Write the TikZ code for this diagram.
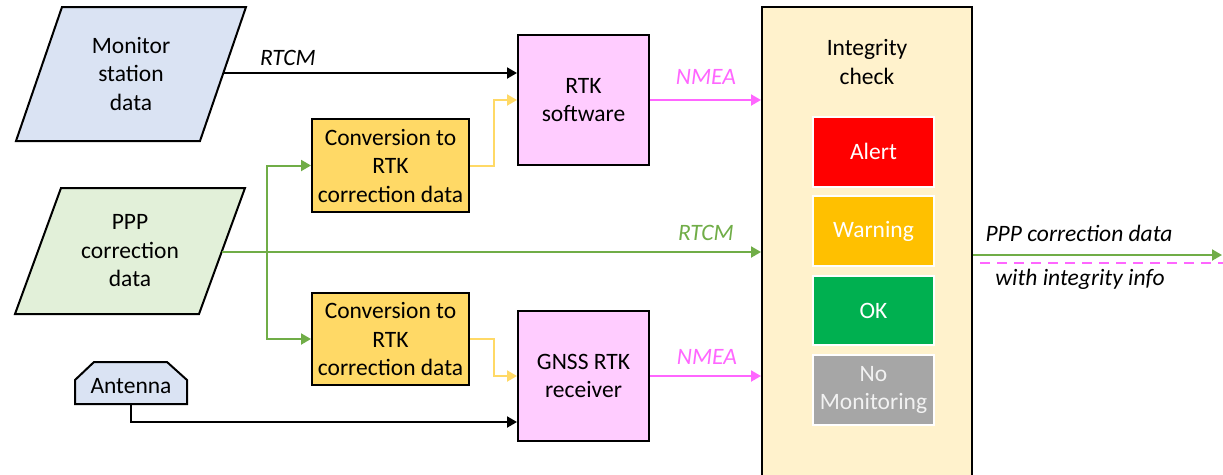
\documentclass[tikz,border=0pt]{standalone}
\usepackage{fontspec}
\setmainfont{Carlito}
\usetikzlibrary{arrows.meta,calc}
\definecolor{inblue}{HTML}{DAE3F3}
\definecolor{ingreen}{HTML}{E2F0D9}
\definecolor{convfill}{HTML}{FFD966}
\definecolor{procfill}{HTML}{FFCCFF}
\definecolor{nmeacol}{HTML}{FF66FF}
\definecolor{pppcol}{HTML}{70AD47}
\definecolor{checkfill}{HTML}{FFF2CC}
\definecolor{alertcol}{HTML}{FF0000}
\definecolor{warncol}{HTML}{FFC000}
\definecolor{okcol}{HTML}{00B050}
\definecolor{nomoncol}{HTML}{A6A6A6}
\begin{document}
\begin{tikzpicture}[x=1pt,y=-1pt,
  font=\fontsize{23.5}{28.5}\selectfont,
  box/.style={draw=black, line width=2pt, align=center, inner sep=0pt},
  conv/.style={box, fill=convfill, minimum width=157pt, minimum height=93pt},
  proc/.style={box, fill=procfill, minimum width=131pt, minimum height=130pt},
  status/.style={draw=white, line width=2pt, text=white, align=center,
    minimum width=121pt, minimum height=70pt, inner sep=0pt},
  txt/.style={align=center, inner sep=0pt},
  link/.style={line width=2pt, -{Triangle[length=10pt,width=11pt]}},
  lbl/.style={font=\fontsize{23.5}{28.5}\selectfont\itshape, inner sep=0pt}
]
\clip (0,0) rectangle (1223,474);
\fill[white] (0,0) rectangle (1223,474);

% input data sources
\draw[box, fill=inblue] (62,7) -- (246,7) -- (200,141) -- (16,141) -- cycle;
\node[txt] (mon) at (131,74) {Monitor\\station\\data};
\coordinate (mon-e) at (224,73);

\draw[box, fill=ingreen] (61,188) -- (245,188) -- (199,314) -- (15,314) -- cycle;
\node[txt] (ppp) at (130,251) {PPP\\correction\\data};
\coordinate (ppp-e) at (222,252);
\coordinate (split) at (267,252);

\draw[box, fill=inblue] (75,404) -- (75,380) -- (94,362) -- (167,362) -- (187,380) -- (187,404) -- cycle;
\node[txt] (ant) at (131,386) {Antenna};
\coordinate (ant-s) at (131,404);

% processing blocks
\node[conv] (conv1) at (390.5,165.5) {Conversion to\\RTK\\correction data};
\node[conv, minimum height=92pt] (conv2) at (390.5,339) {Conversion to\\RTK\\correction data};
\node[proc] (rtk) at (583.5,100) {RTK\\software};
\node[proc] (gnss) at (583.5,376) {GNSS RTK\\receiver};

% integrity check
\node[box, fill=checkfill, minimum width=210pt, minimum height=488pt] (integ) at (867,251) {};
\node[txt] (integ-title) at (867,62) {Integrity\\check};
\node[status, fill=alertcol] (alert) at (873.5,151.5) {Alert};
\node[status, fill=warncol] (warn) at (873.5,231) {Warning};
\node[status, fill=okcol, minimum height=69pt] (ok) at (873.5,310.5) {OK};
\node[status, fill=nomoncol, text=white!95!black] (nomon) at (873.5,390) {No\\Monitoring};

% connectors
\draw[link] (mon-e) -- (mon-e -| rtk.west);
\draw[link, convfill] (conv1.east) -- ++(24,0) |- (rtk.west);
\draw[link, convfill] (conv2.east) -- ++(24,0) |- (gnss.west);
\draw[link, pppcol] (ppp-e) -- (ppp-e -| integ.west);
\draw[link, pppcol] (split) |- (conv1.west);
\draw[link, pppcol] (split) |- (conv2.west);
\draw[link] (ant-s) |- ([yshift=20pt]gnss.south west);
\draw[link, nmeacol] (rtk.east) -- (rtk.east -| integ.west);
\draw[link, nmeacol] (gnss.east) -- (gnss.east -| integ.west);

% output
\coordinate (out-end) at (1222,255);
\draw[link, pppcol] (out-end -| integ.east) -- (out-end);
\coordinate (dash-a) at (980,263);
\coordinate (dash-b) at (1223,263);
\draw[nmeacol, line width=2pt, dash pattern=on 10pt off 7pt] (dash-a) -- (dash-b);

% labels
\node[lbl] (l-rtcm1) at (288,58) {RTCM};
\node[lbl, text=nmeacol] (l-nmea1) at (706,77) {NMEA};
\node[lbl, text=nmeacol] (l-nmea2) at (707,357) {NMEA};
\node[lbl, text=pppcol] (l-rtcm2) at (706,233) {RTCM};
\node[lbl] (l-out1) at (1079,233) {PPP correction data};
\node[lbl] (l-out2) at (1080,279) {with integrity info};
\end{tikzpicture}
\end{document}
